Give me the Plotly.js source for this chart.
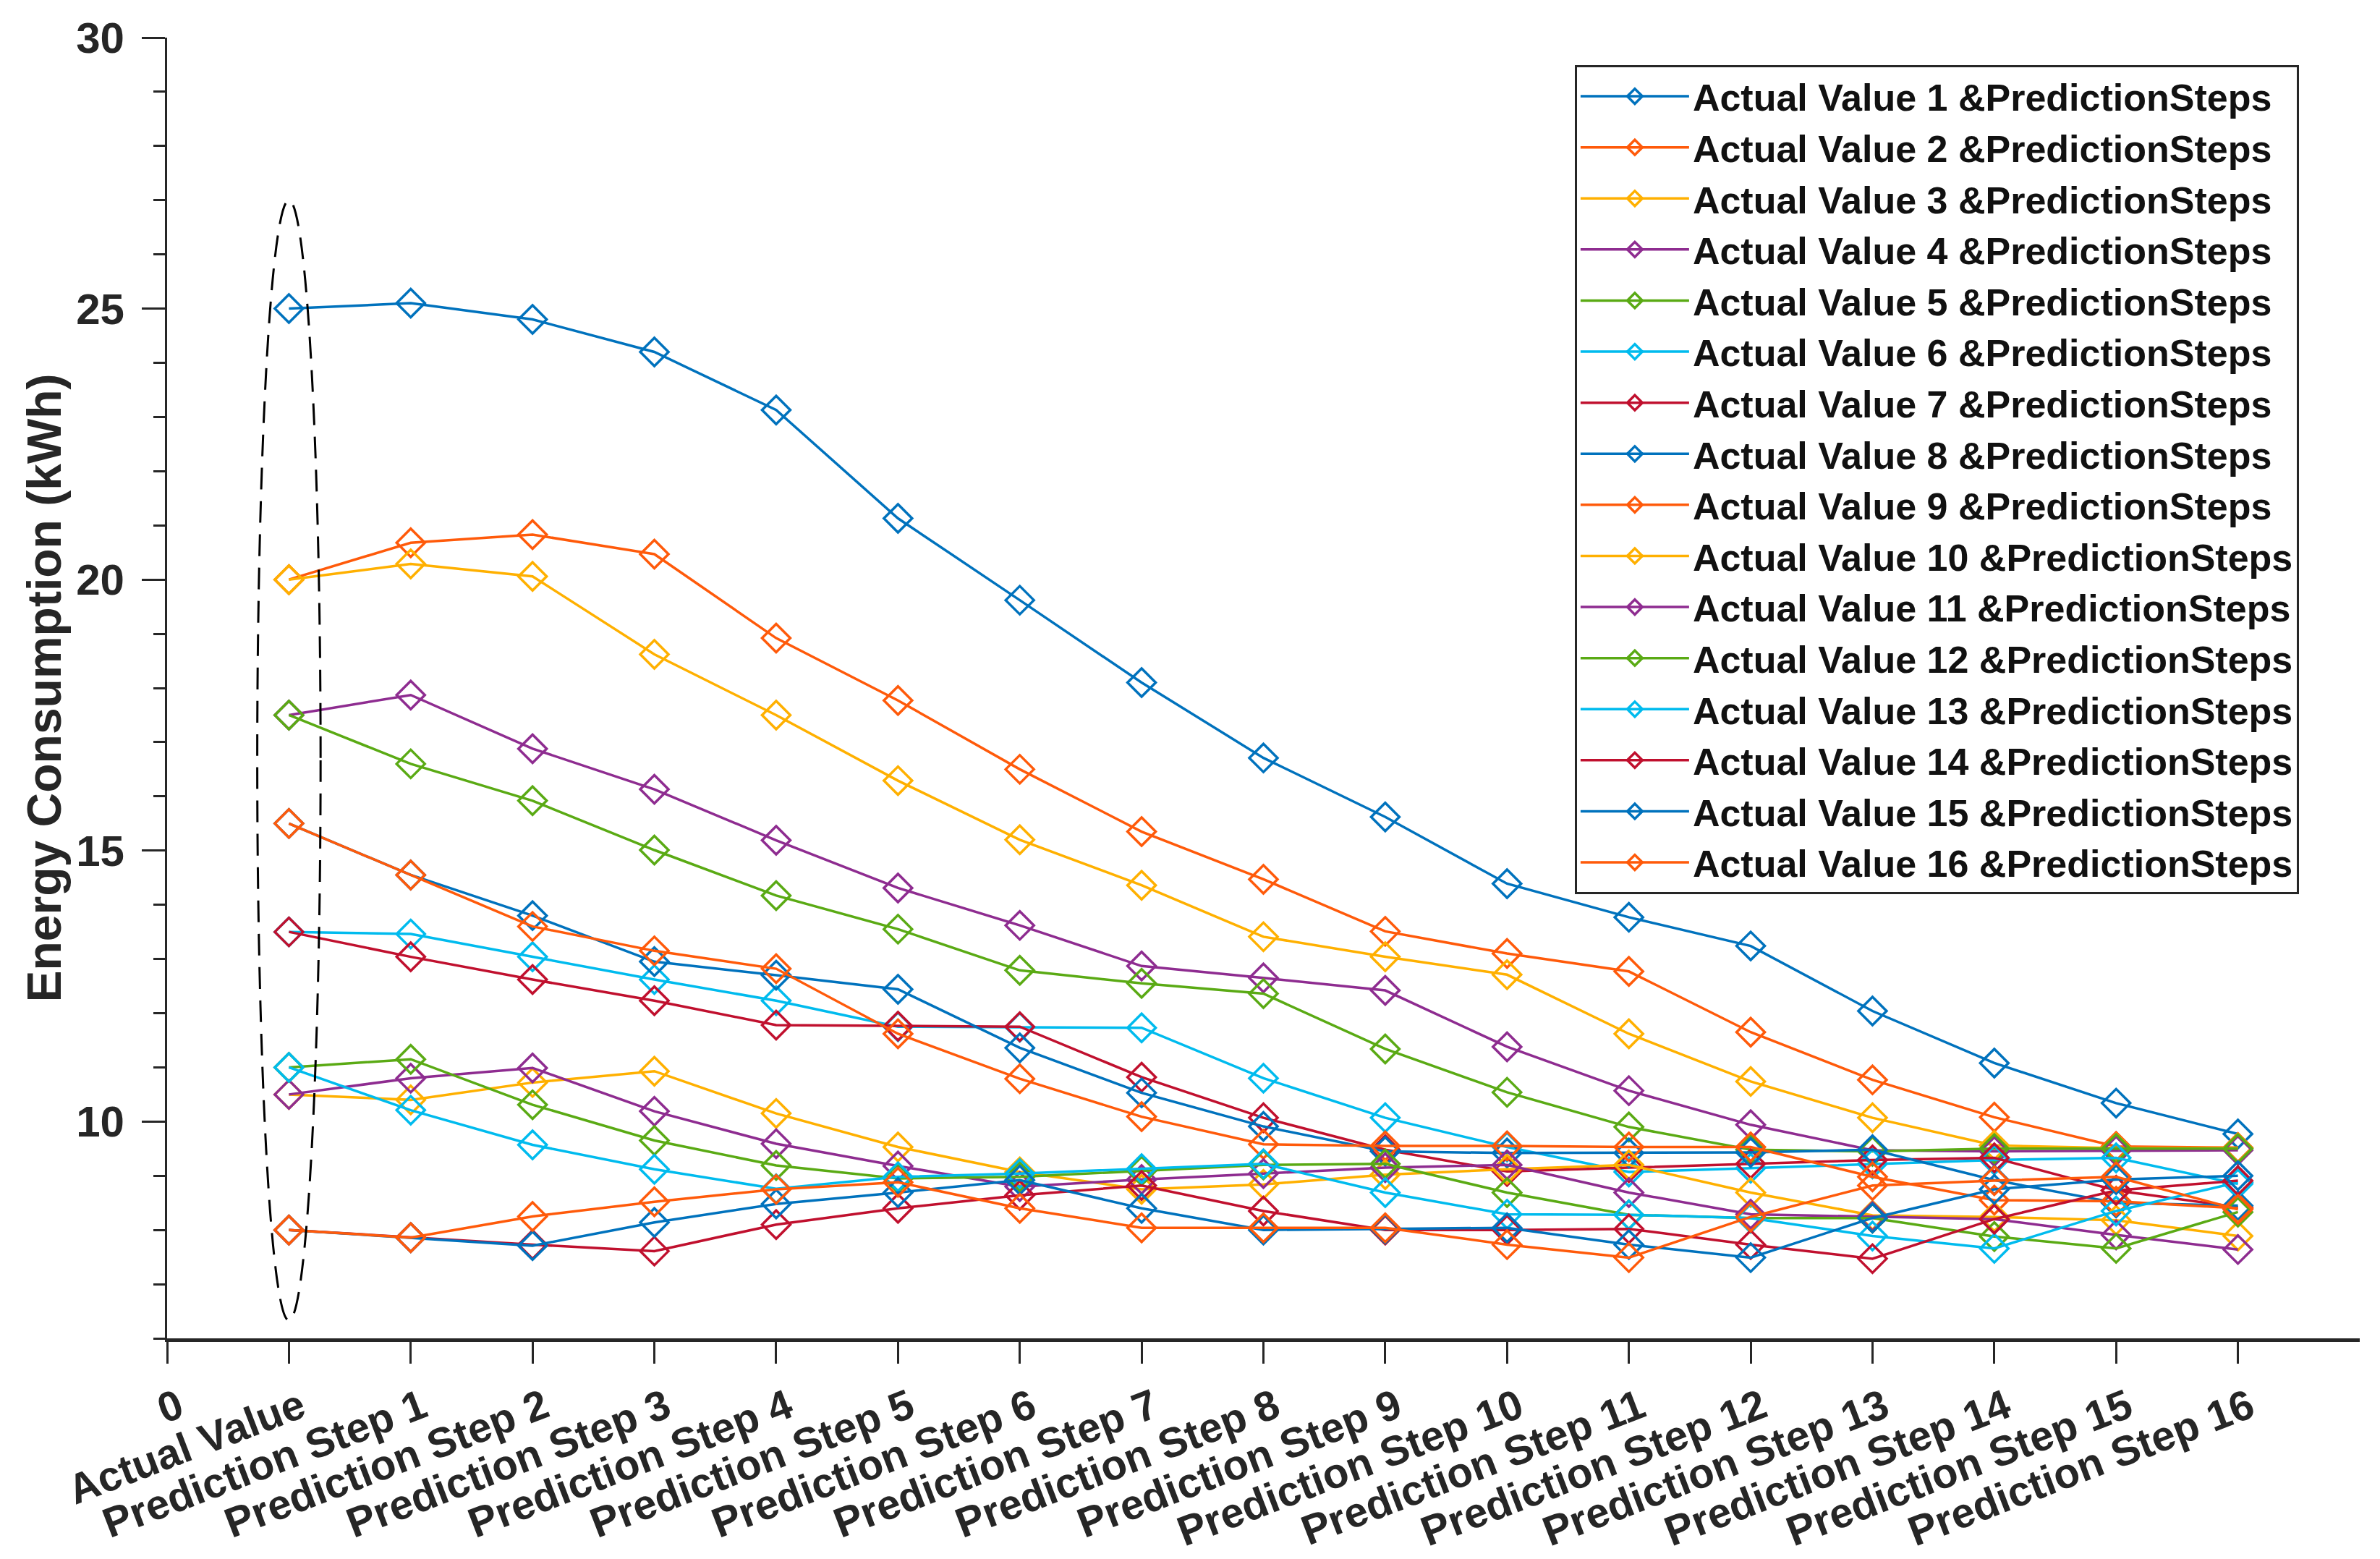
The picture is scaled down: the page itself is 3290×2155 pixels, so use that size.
<!DOCTYPE html>
<html>
<head>
<meta charset="utf-8">
<script src="https://cdn.plot.ly/plotly-3.0.1.min.js"></script>
<style>html,body{margin:0;padding:0;background:#fff;}#chart{width:3290px;height:2155px;}</style>
</head>
<body>
<div id="chart"></div>
<script>
// x-axis tick labels (position = index)
const tickLabels = ['0', 'Actual Value',
  'Prediction Step 1', 'Prediction Step 2', 'Prediction Step 3', 'Prediction Step 4',
  'Prediction Step 5', 'Prediction Step 6', 'Prediction Step 7', 'Prediction Step 8',
  'Prediction Step 9', 'Prediction Step 10', 'Prediction Step 11', 'Prediction Step 12',
  'Prediction Step 13', 'Prediction Step 14', 'Prediction Step 15', 'Prediction Step 16'];

// series values: Actual Value, Prediction Step 1..16
const av1  = [25.0, 25.1, 24.8, 24.2, 23.13, 21.13, 19.62, 18.1, 16.71, 15.62, 14.39, 13.77, 13.24, 12.04, 11.08, 10.34, 9.77];
const av2  = [20.0, 20.68, 20.83, 20.47, 18.92, 17.77, 16.5, 15.35, 14.47, 13.51, 13.1, 12.77, 11.65, 10.77, 10.08, 9.54, 9.52];
const av3  = [20.0, 20.29, 20.06, 18.62, 17.5, 16.29, 15.2, 14.36, 13.41, 13.04, 12.71, 11.62, 10.74, 10.07, 9.56, 9.51, 9.51];
const av4  = [17.5, 17.87, 16.88, 16.13, 15.19, 14.31, 13.62, 12.87, 12.65, 12.42, 11.38, 10.57, 9.94, 9.47, 9.45, 9.46, 9.47];
const av5  = [17.5, 16.6, 15.92, 15.01, 14.17, 13.55, 12.79, 12.55, 12.36, 11.34, 10.54, 9.9, 9.48, 9.45, 9.5, 9.5, 9.5];
const av6  = [13.5, 13.46, 13.04, 12.62, 12.23, 11.75, 11.74, 11.73, 10.8, 10.07, 9.53, 9.07, 9.14, 9.22, 9.29, 9.33, 8.85];
const av7  = [13.5, 13.04, 12.62, 12.23, 11.78, 11.76, 11.75, 10.82, 10.07, 9.48, 9.08, 9.15, 9.22, 9.29, 9.33, 8.73, 8.42];
const av8  = [15.5, 14.55, 13.8, 12.95, 12.7, 12.44, 11.36, 10.53, 9.91, 9.45, 9.42, 9.42, 9.43, 9.48, 8.92, 8.5, 8.45];
const av9  = [15.5, 14.55, 13.6, 13.15, 12.82, 11.62, 10.79, 10.09, 9.58, 9.55, 9.55, 9.53, 9.53, 8.98, 8.55, 8.53, 8.4];
const av10 = [10.5, 10.4, 10.72, 10.93, 10.15, 9.53, 9.07, 8.75, 8.84, 9.02, 9.12, 9.2, 8.69, 8.27, 8.24, 8.18, 7.89];
const av11 = [10.5, 10.8, 10.99, 10.19, 9.59, 9.18, 8.8, 8.93, 9.04, 9.15, 9.2, 8.69, 8.29, 8.25, 8.2, 7.91, 7.64];
const av12 = [11.0, 11.15, 10.31, 9.65, 9.19, 8.95, 8.98, 9.09, 9.2, 9.22, 8.69, 8.28, 8.22, 8.22, 7.88, 7.66, 8.33];
const av13 = [11.0, 10.21, 9.57, 9.12, 8.76, 8.98, 9.04, 9.13, 9.22, 8.69, 8.29, 8.28, 8.22, 7.89, 7.66, 8.35, 8.88];
const av14 = [8.0, 7.86, 7.73, 7.61, 8.1, 8.4, 8.64, 8.82, 8.35, 8.0, 8.0, 8.02, 7.73, 7.47, 8.2, 8.73, 8.91];
const av15 = [8.0, 7.86, 7.71, 8.14, 8.48, 8.69, 8.92, 8.4, 8.0, 8.02, 8.04, 7.73, 7.49, 8.22, 8.75, 8.93, 9.0];
const av16 = [8.0, 7.86, 8.25, 8.52, 8.75, 8.88, 8.4, 8.04, 8.04, 8.04, 7.73, 7.49, 8.24, 8.82, 8.91, 8.98, 8.38];

const seriesValues = [av1, av2, av3, av4, av5, av6, av7, av8, av9, av10, av11, av12, av13, av14, av15, av16];
const seriesNames = seriesValues.map((_, i) => 'Actual Value ' + (i + 1) + ' &PredictionSteps');
const palette = ['#0072BD', '#FF5A0A', '#FFB000', '#8E2C90', '#5AAA14', '#00BBEE', '#C0102E'];

// dashed ellipse around the actual values (x range, y range)
const ellipseX = [0.74, 1.26];
const ellipseY = [6.33, 27.0];

const FONT = 'Liberation Sans, Arial, Helvetica, sans-serif';
const TXT = '#262626';

const traces = seriesValues.map((vals, i) => {
  const c = palette[i % palette.length];
  return {
    type: 'scatter',
    mode: 'lines+markers',
    name: seriesNames[i],
    x: vals.map((_, j) => j + 1),
    y: vals,
    line: {color: c, width: 3.5},
    marker: {symbol: 'diamond-open', size: 30, color: c, line: {color: c, width: 3.5}}
  };
});

const layout = {
  width: 3290,
  height: 2155,
  margin: {l: 231, r: 28, t: 52, b: 305},
  paper_bgcolor: '#ffffff',
  plot_bgcolor: '#ffffff',
  showlegend: true,
  font: {family: FONT, color: TXT},
  xaxis: {
    range: [0, 18],
    tickmode: 'array',
    tickvals: tickLabels.map((_, i) => i),
    ticktext: tickLabels,
    tickangle: -21,
    ticks: 'outside',
    ticklen: 30,
    tickwidth: 3,
    tickcolor: TXT,
    showline: true,
    linecolor: TXT,
    linewidth: 5,
    showgrid: false,
    zeroline: false,
    automargin: false,
    ticklabelstandoff: 4,
    ticklabelshift: 16,
    tickfont: {family: FONT, size: 58, weight: 'bold', color: TXT}
  },
  yaxis: {
    range: [6, 30],
    tick0: 0,
    dtick: 5,
    ticks: 'outside',
    ticklen: 32,
    tickwidth: 3,
    tickcolor: TXT,
    minor: {dtick: 1, ticks: 'outside', ticklen: 16, tickwidth: 3, tickcolor: TXT, showgrid: false},
    showline: true,
    linecolor: TXT,
    linewidth: 3,
    showgrid: false,
    zeroline: false,
    automargin: false,
    ticklabelstandoff: 12,
    tickfont: {family: FONT, size: 60, weight: 'bold', color: TXT},
    title: {text: 'Energy Consumption (kWh)', font: {family: FONT, size: 66, weight: 'bold', color: TXT}, standoff: 0}
  },
  legend: {
    x: 0.642,
    y: 0.979,
    xanchor: 'left',
    yanchor: 'top',
    bgcolor: '#ffffff',
    bordercolor: TXT,
    borderwidth: 3,
    itemwidth: 150,
    tracegroupgap: 0,
    font: {family: FONT, size: 52, weight: 'bold', color: '#111111'}
  },
  shapes: [{
    type: 'circle',
    xref: 'x', yref: 'y',
    x0: ellipseX[0], x1: ellipseX[1],
    y0: ellipseY[0], y1: ellipseY[1],
    line: {color: '#000000', width: 3, dash: '30px,16px'}
  }]
};

Plotly.newPlot('chart', traces, layout, {displayModeBar: false, staticPlot: true});
</script>
</body>
</html>
